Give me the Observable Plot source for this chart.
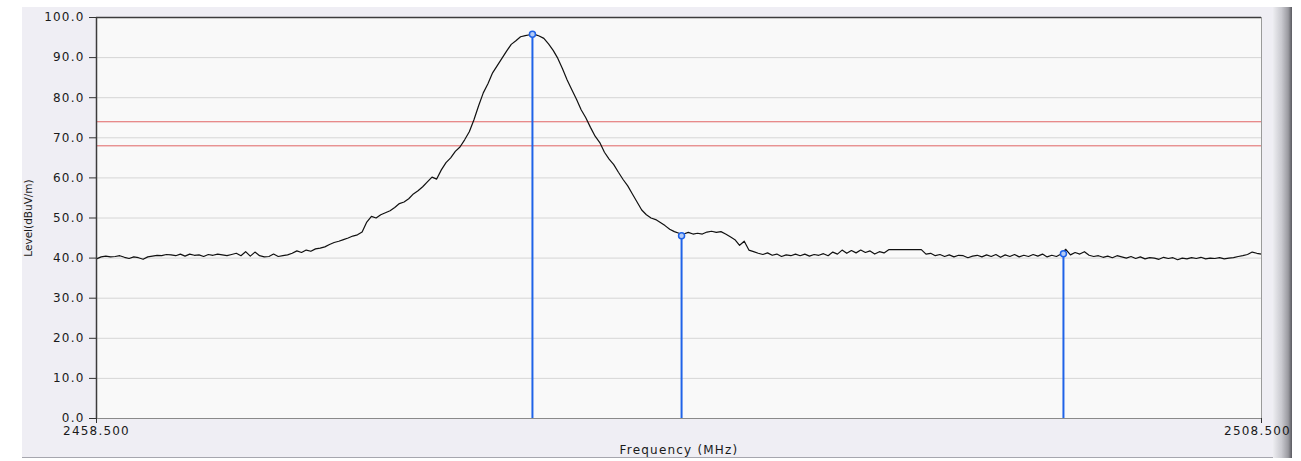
<!DOCTYPE html>
<html>
<head>
<meta charset="utf-8">
<script src="https://cdn.jsdelivr.net/npm/d3@7"></script>
<script src="https://cdn.jsdelivr.net/npm/@observablehq/plot@0.6"></script>
<style>
  html, body { margin: 0; padding: 0; background: #ffffff; }
  #wrap { position: relative; width: 1301px; height: 461px; overflow: hidden; }
  #panel { position: absolute; left: 22px; top: 7px; width: 1251px; height: 450px; background: #efeef4; border-bottom: 1px solid #a6a6ae; }
  #edge { position: absolute; left: 1273px; top: 7px; width: 19px; height: 451px;
          background: linear-gradient(to right, #ededf1 0%, #c9c9cf 45%, #9a9aa0 80%, #5a5a60 100%); }
  #clip { position: absolute; left: 0; top: 0; width: 1292px; height: 461px; overflow: hidden; }
  #chart { width: 1301px; height: 461px; }
  #chart svg { max-width: none !important; width: 1301px; height: 461px; }
  #chart text[transform*="rotate"] { letter-spacing: 0; }
</style>
</head>
<body>
<div id="wrap">
  <div id="panel"></div>
  <div id="edge"></div>
  <div id="clip"><div id="chart"></div></div>
</div>
<script>
// Sweep: start frequency and step (MHz)
const freqStart = 2458.5;
const freqStep = 0.2;
// Trace levels (dBuV/m), one per sweep point
const levels = [
  39.8,40.3,40.5,40.3,40.4,40.6,40.2,39.9,40.3,40.1,
  39.7,40.3,40.5,40.7,40.6,40.9,40.8,40.6,41.0,40.5,
  41.0,40.7,40.8,40.4,40.9,40.7,41.0,40.8,40.6,40.9,
  41.2,40.6,41.6,40.5,41.5,40.6,40.3,40.4,41.0,40.4,
  40.6,40.8,41.2,41.8,41.4,42.0,41.7,42.3,42.5,42.8,
  43.4,43.9,44.2,44.6,45.0,45.5,45.8,46.5,49.0,50.4,
  50.0,50.8,51.3,51.8,52.6,53.6,54.0,54.8,56.0,56.8,
  57.8,59.0,60.2,59.7,62.0,63.8,65.0,66.6,67.7,69.5,
  71.5,74.5,78.0,81.2,83.5,86.2,88.0,89.8,91.6,93.3,
  94.2,95.2,95.5,95.7,95.8,95.4,94.8,93.4,91.8,89.8,
  87.2,84.4,82.0,79.6,77.0,75.0,72.6,70.4,68.8,66.4,
  64.7,63.3,61.4,59.6,58.0,56.0,54.0,52.0,50.8,50.0,
  49.6,48.9,48.1,47.2,46.6,46.2,46.0,46.4,46.0,46.2,
  46.0,46.5,46.7,46.4,46.6,46.0,45.3,44.6,43.2,44.2,
  42.0,41.6,41.2,40.9,41.3,40.7,41.0,40.4,40.8,40.6,
  41.0,40.6,41.0,40.5,40.9,40.7,41.1,40.6,41.5,41.0,
  42.0,41.2,41.9,41.3,42.0,41.4,41.8,41.0,41.6,41.3,
  42.1,42.1,42.1,42.1,42.1,42.1,42.1,42.1,41.0,41.2,
  40.6,40.9,40.4,40.8,40.3,40.7,40.6,40.1,40.5,40.7,
  40.3,40.8,40.4,40.9,40.2,40.8,40.4,40.9,40.3,40.7,
  40.4,40.9,40.5,41.0,40.3,40.7,40.4,41.0,42.2,40.8,
  41.4,41.0,41.6,40.7,40.4,40.6,40.2,40.5,40.1,40.6,
  40.3,40.0,40.4,39.9,40.3,39.8,40.1,40.0,39.7,40.2,
  39.9,40.1,39.6,40.0,39.8,40.1,39.9,40.2,39.8,40.0,
  39.9,40.1,39.8,40.0,40.1,40.4,40.6,40.9,41.5,41.2,
  41.0
];
// Markers
const markerFreqs = [2477.21, 2483.61, 2500.00];
const markerLevels = [95.8, 45.6, 41.1];
// Limit lines
const limitLevels = [74.0, 68.0];
// Axis ticks
const yTicks = [0, 10, 20, 30, 40, 50, 60, 70, 80, 90, 100];
const xTicks = [2458.5, 2508.5];
const xTickEnd = [2508.5];
const xLabel = "Frequency (MHz)";
const yLabel = "Level(dBuV/m)";

const trace = levels.map((l, i) => ({f: freqStart + i * freqStep, l}));
const markers = markerFreqs.map((f, i) => ({f, l: markerLevels[i]}));

const blue = "#1f63e8";

const chart = Plot.plot({
  width: 1301,
  height: 461,
  marginLeft: 96,
  marginRight: 40,
  marginTop: 17,
  marginBottom: 43,
  style: {background: "transparent", fontFamily: "DejaVu Sans", fontSize: "12px", color: "#1a1a1a", letterSpacing: "1.2px", overflow: "visible"},
  x: {domain: [2458.5, 2508.5]},
  y: {domain: [0, 100]},
  marks: [
    Plot.frame({fill: "#f9f9f9", stroke: null}),
    Plot.gridY(yTicks, {stroke: "#d6d6d6", strokeOpacity: 1}),
    Plot.ruleY(limitLevels, {stroke: "#e06464", strokeWidth: 1}),
    Plot.ruleX(markers, {x: "f", y1: 0, y2: "l", stroke: blue, strokeWidth: 2}),
    Plot.line(trace, {x: "f", y: "l", stroke: "#111111", strokeWidth: 1.2}),
    Plot.dot(markers, {x: "f", y: "l", r: 3, stroke: blue, strokeWidth: 1.5, fill: "#b4cbf5"}),
    Plot.ruleY([0], {stroke: "#8a8a8a"}),
    Plot.ruleX([2508.5], {stroke: "#9a9a9a"}),
    Plot.ruleY([100], {stroke: "#3c3c3c", strokeWidth: 1.5}),
    Plot.ruleX([2458.5], {stroke: "#3c3c3c", strokeWidth: 1.5}),
    Plot.axisY(yTicks, {tickFormat: d => d.toFixed(1), tickSize: 7, tickPadding: 5, label: null, stroke: "#333"}),
    Plot.axisX(xTicks, {tickFormat: d => d === 2458.5 ? d.toFixed(3) : "", tickSize: 5, tickPadding: 3, label: null, stroke: "#333"}),
    Plot.text(xTickEnd, {x: d => d, frameAnchor: "bottom", lineAnchor: "top", dy: 8, dx: -4, text: d => d.toFixed(3)}),
    Plot.text([xLabel], {frameAnchor: "bottom", dy: 35, text: d => d}),
    Plot.text([yLabel], {frameAnchor: "left", dx: -68, rotate: -90, textAnchor: "middle", fontSize: 10.5, text: d => d})
  ]
});
document.getElementById("chart").appendChild(chart);
</script>
</body>
</html>
